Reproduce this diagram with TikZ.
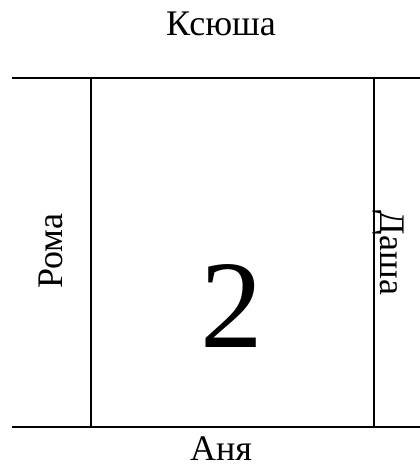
\documentclass[tikz,border=0pt]{standalone}
\usepackage{fontspec}
\setmainfont{Liberation Serif}
\tikzset{
  wall/.style={line width=1.9pt, line cap=butt},
  person/.style={inner sep=0pt, anchor=base, font=\fontsize{27}{32}\selectfont},
  bignum/.style={inner sep=0pt, anchor=base, font=\fontsize{94}{110}\selectfont}
}
\begin{document}
\begin{tikzpicture}[x=0.75pt,y=-0.75pt]
\useasboundingbox (0,0) rectangle (420,472);
\coordinate (tl) at (12,78);
\coordinate (tr) at (420,78);
\coordinate (bl) at (12,427);
\coordinate (br) at (420,427);
\coordinate (lt) at (91,78);
\coordinate (lb) at (91,427);
\coordinate (rt) at (374,78);
\coordinate (rb) at (374,427);
\draw[wall] (tl) -- (tr);
\draw[wall] (bl) -- (br);
\draw[wall] (lt) -- (lb);
\draw[wall] (rt) -- (rb);
\node[person] (top) at (221,35) {Ксюша};
\node[person] (bottom) at (221,460) {Аня};
\node[person, rotate=90] (left) at (62,251) {Рома};
\node[person, rotate=-90] (right) at (380,253) {Даша};
\node[bignum] (num) at (231.5,347) {2};
\end{tikzpicture}
\end{document}
